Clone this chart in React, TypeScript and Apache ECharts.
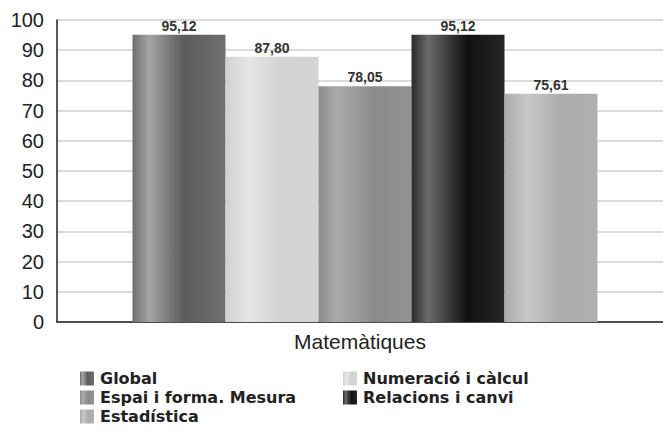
import React, { useEffect, useRef } from "react";
import * as echarts from "echarts";

const categories = ["Matemàtiques"];
const seriesNames = ["Global", "Numeració i càlcul", "Espai i forma. Mesura", "Relacions i canvi", "Estadística"];
const globalValues = [95.12];
const numeracioValues = [87.8];
const espaiValues = [78.05];
const relacionsValues = [95.12];
const estadisticaValues = [75.61];
const spacerValues = [null];
const yTicks = [0, 10, 20, 30, 40, 50, 60, 70, 80, 90, 100];

const grad = (stops: [number, string][]) =>
  new echarts.graphic.LinearGradient(0, 0, 1, 0, stops.map(([offset, color]) => ({ offset, color })));

const colors = [
  grad([[0, "#6e6e6e"], [0.18, "#a4a4a4"], [0.55, "#5c5c5c"], [1, "#707070"]]),
  grad([[0, "#d0d0d0"], [0.25, "#e6e6e6"], [0.6, "#d2d2d2"], [1, "#d4d4d4"]]),
  grad([[0, "#8c8c8c"], [0.2, "#ababab"], [0.6, "#8a8a8a"], [1, "#929292"]]),
  grad([[0, "#2a2a2a"], [0.18, "#6a6a6a"], [0.6, "#111111"], [1, "#262626"]]),
  grad([[0, "#aaaaaa"], [0.25, "#c8c8c8"], [0.6, "#acacac"], [1, "#b0b0b0"]]),
];

const values = [globalValues, numeracioValues, espaiValues, relacionsValues, estadisticaValues];

// legend item slots: [left, top]
const legendSlots: [number, number][] = [
  [80, 370],
  [343, 370],
  [80, 389],
  [343, 389],
  [80, 408],
];

export default function App() {
  const ref = useRef<HTMLDivElement>(null);
  useEffect(() => {
    document.body.style.margin = "0";
    if (!ref.current) return;
    const chart = echarts.init(ref.current, null, { renderer: "svg" });
    const font = "Liberation Sans, Arial, sans-serif";
    chart.setOption({
      animation: false,
      textStyle: { fontFamily: font },
      grid: { left: 57, right: 0, top: 20, bottom: 110 },
      legend: seriesNames.map((name, i) => ({
        left: legendSlots[i][0],
        top: legendSlots[i][1],
        padding: 0,
        itemWidth: 14,
        itemHeight: 14,
        itemGap: 0,
        icon: "rect",
        data: [name],
        textStyle: { fontFamily: "DejaVu Sans", fontSize: 16, lineHeight: 17, fontWeight: "bold", color: "#222", padding: [0, 0, 0, 1] },
      })),
      xAxis: {
        type: "category",
        data: categories,
        axisLine: { lineStyle: { color: "#222", width: 1.5 } },
        axisTick: { show: false },
        axisLabel: { fontSize: 21, color: "#222", margin: 9 },
      },
      yAxis: {
        type: "value",
        min: yTicks[0],
        max: yTicks[yTicks.length - 1],
        interval: 10,
        axisLine: { show: true, lineStyle: { color: "#222", width: 1.5 } },
        axisTick: { show: false },
        axisLabel: { fontSize: 20, color: "#222", margin: 13 },
        splitLine: { lineStyle: { color: "#cfcfcf", width: 1.5 } },
      },
      series: [
        {
          name: "spacer",
          type: "bar",
          data: spacerValues,
          barWidth: 10,
          barGap: "0%",
          silent: true,
          itemStyle: { color: "transparent" },
          label: { show: false },
        },
        ...seriesNames.map((name, i) => ({
          name,
          type: "bar",
          data: values[i],
          barWidth: 93,
          barGap: "0%",
          itemStyle: { color: colors[i] },
          label: {
            show: true,
            position: "top",
            distance: 2,
            fontSize: 14,
            fontWeight: "bold",
            color: "#333",
            formatter: (p: any) => p.value.toFixed(2).replace(".", ","),
          },
        })),
      ],
    });
    return () => chart.dispose();
  }, []);
  return <div ref={ref} style={{ width: 663, height: 432 }} />;
}
